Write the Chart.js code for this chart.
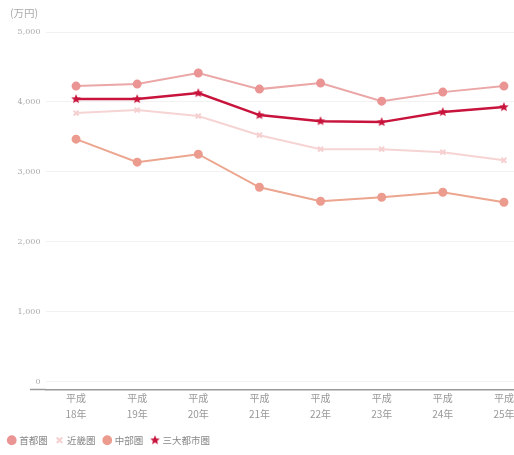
<!DOCTYPE html>
<html>
<head>
<meta charset="utf-8">
<script src="https://cdn.jsdelivr.net/npm/chart.js@4/dist/chart.umd.min.js"></script>
<style>
  html, body { margin: 0; padding: 0; background: #fff; overflow: hidden; width: 514px; height: 455px; }
  #wrap { position: relative; width: 514px; height: 455px; overflow: hidden; }
  #chart-1 { position: absolute; left: 0; top: 0; }
</style>
</head>
<body>
<div id="wrap"><canvas id="chart-1" width="542" height="455" style="width:542px;height:455px;display:block"></canvas></div>
<script>
const labels = [["平成", "18年"], ["平成", "19年"], ["平成", "20年"], ["平成", "21年"], ["平成", "22年"], ["平成", "23年"], ["平成", "24年"], ["平成", "25年"]];
const shutoken = [4226, 4255, 4413, 4183, 4269, 4011, 4140, 4226];
const kinki = [3840, 3883, 3797, 3524, 3324, 3324, 3281, 3166];
const chubu = [3467, 3138, 3252, 2779, 2579, 2636, 2708, 2564];
const sandai = [4040, 4040, 4126, 3811, 3725, 3711, 3854, 3926];
const yTicks = [0, 1000, 2000, 3000, 4000, 5000];

// filled star for 三大都市圏
const makeStar = (r, color) => {
  const c = document.createElement("canvas");
  c.width = r * 2 + 2; c.height = r * 2 + 2;
  const g = c.getContext("2d");
  g.fillStyle = color;
  g.beginPath();
  for (let i = 0; i < 10; i++) {
    const rr = i % 2 === 0 ? r : r * 0.45;
    const a = -Math.PI / 2 + i * Math.PI / 5;
    g.lineTo(r + 1 + rr * Math.cos(a), r + 1 + rr * Math.sin(a));
  }
  g.closePath();
  g.fill();
  return c;
};
const star = makeStar(5, "#c8143c");

// unit label top-left + axis line running under the tick labels
const unitLabel = {
  id: "unitLabel",
  afterDraw(chart) {
    const g = chart.ctx;
    const a = chart.chartArea;
    g.save();
    g.fillStyle = "#aaa";
    g.font = "10.5px 'Noto Sans CJK JP'";
    g.textBaseline = "middle";
    g.fillText("(万円)", 10, 13);
    g.strokeStyle = "#999";
    g.lineWidth = 1.5;
    g.beginPath();
    g.moveTo(30, a.bottom);
    g.lineTo(a.left, a.bottom);
    g.stroke();
    g.restore();
  },
};

const ctx1 = document.getElementById("chart-1").getContext("2d");
const myChart = new Chart(ctx1, {
  type: "line",
  data: {
    labels: labels,
    datasets: [
      {
        label: "首都圏",
        data: shutoken,
        borderColor: "#eba7a7",
        backgroundColor: "#ea9494",
        pointBackgroundColor: "#ea9494",
        pointBorderColor: "#ea9494",
        borderWidth: 2,
        pointRadius: 3.5,
      },
      {
        label: "近畿圏",
        data: kinki,
        borderColor: "#f6d4d4",
        backgroundColor: "#f6d0d0",
        pointBackgroundColor: "#f6d0d0",
        pointBorderColor: "#f6d0d0",
        pointStyle: "crossRot",
        borderWidth: 2,
        pointBorderWidth: 2,
        pointRadius: 3.5,
      },
      {
        label: "中部圏",
        data: chubu,
        borderColor: "#eca58e",
        backgroundColor: "#eb9c8e",
        pointBackgroundColor: "#eb9c8e",
        pointBorderColor: "#eb9c8e",
        borderWidth: 2,
        pointRadius: 3.5,
      },
      {
        label: "三大都市圏",
        data: sandai,
        borderColor: "#c8143c",
        backgroundColor: "#c8143c",
        pointStyle: star,
        borderWidth: 2.5,
        pointRadius: 5,
      },
    ],
  },
  options: {
    responsive: false,
    animation: false,
    layout: { padding: { left: 0, right: 0, top: 32, bottom: 0 } },
    plugins: {
      legend: {
        position: "bottom",
        align: "start",
        labels: {
          usePointStyle: true,
          boxWidth: 5.5,
          boxHeight: 5.5,
          padding: 9,
          color: "#888",
          font: { size: 9.5, family: "Noto Sans CJK JP" },
        },
      },
      tooltip: { enabled: false },
    },
    scales: {
      x: {
        offset: true,
        afterFit: (scale) => { scale.height = 37; },
        grid: { display: false, drawTicks: false },
        border: { color: "#999", width: 1.5 },
        ticks: {
          color: "#999",
          padding: 1,
          maxRotation: 0,
          autoSkip: false,
          font: { size: 10, family: "Noto Sans CJK JP", lineHeight: 1.6 },
        },
      },
      y: {
        min: -114,
        max: 5000,
        afterFit: (scale) => { scale.width = 45.5; },
        afterBuildTicks: (scale) => { scale.ticks = yTicks.map(v => ({ value: v })); },
        grid: { color: "#f2f2f2", drawTicks: false },
        border: { display: false },
        ticks: {
          color: "#aaa",
          padding: 5,
          font: { size: 8, family: "DejaVu Serif" },
          callback: (v) => v.toLocaleString("en-US"),
        },
      },
    },
  },
  plugins: [unitLabel],
});
</script>
</body>
</html>
